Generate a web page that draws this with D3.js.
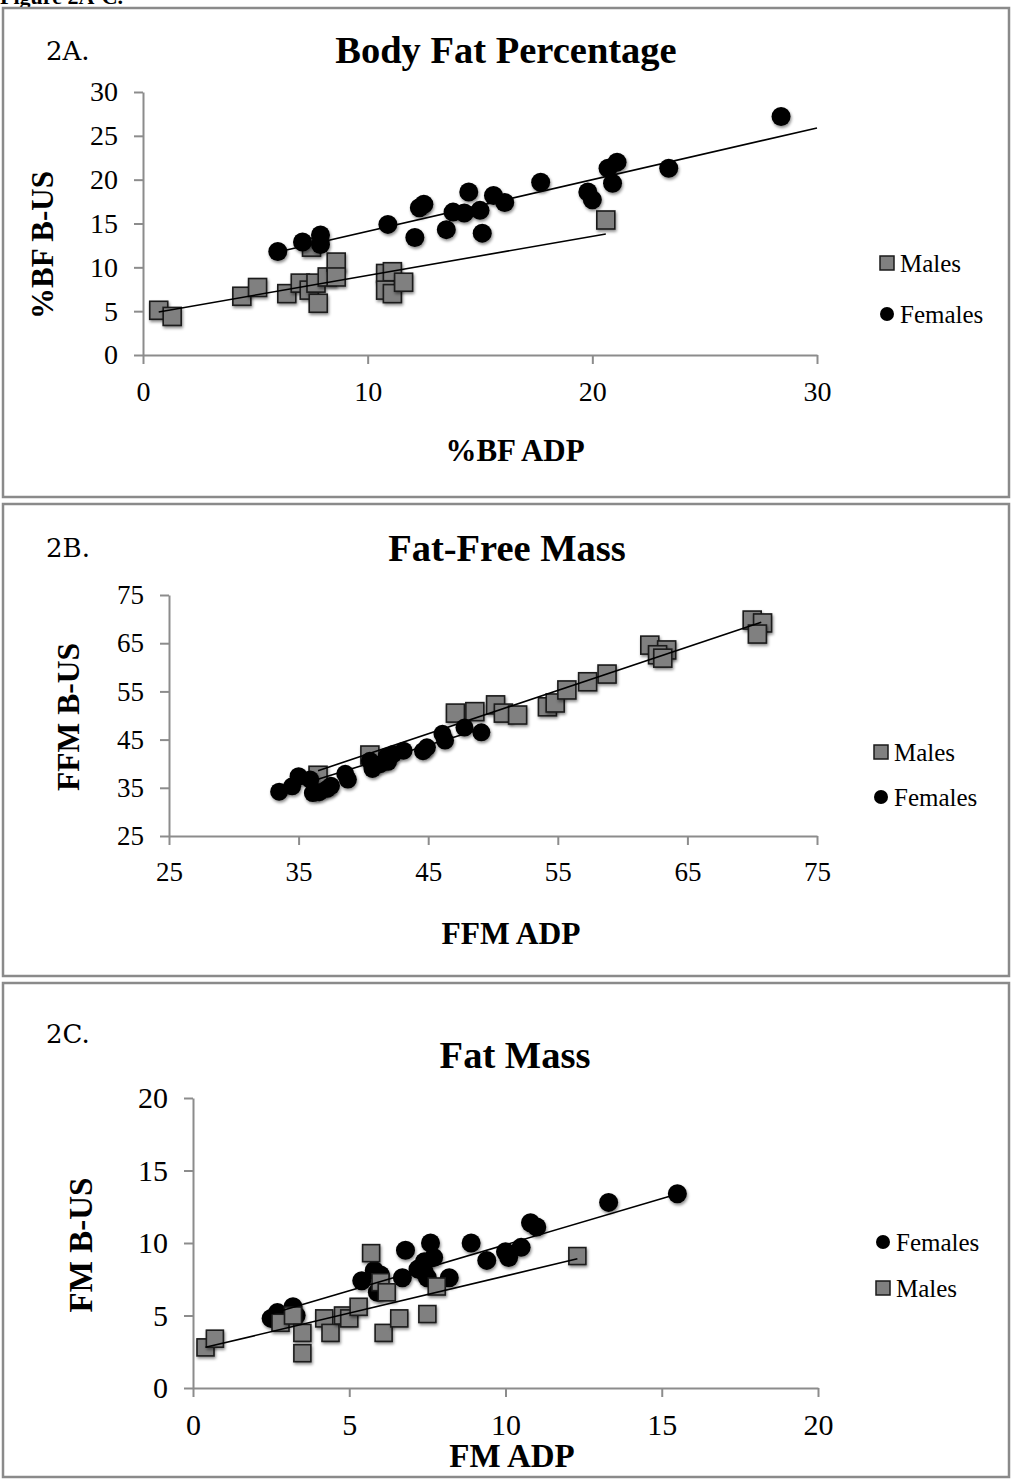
<!DOCTYPE html>
<html>
<head>
<meta charset="utf-8">
<script src="https://cdn.jsdelivr.net/npm/d3@7"></script>
<style>
  body { margin: 0; background: #fff; }
  svg text { font-family: "Liberation Serif", "Times New Roman", serif; fill: #000; }
  .axis path, .axis line { stroke: #8c8c8c; stroke-width: 2; }
</style>
</head>
<body>
<svg id="chart" width="1013" height="1479"></svg>
<script>
// panel A - body fat percentage (%BF ADP vs %BF B-US)
var malesA = [[0.7,5.1],[1.3,4.4],[4.4,6.7],[5.1,7.7],[6.4,7.0],[7.0,8.2],[7.4,7.4],[7.5,12.3],[7.7,8.2],[7.8,5.9],
  [8.2,8.9],[8.6,10.6],[8.6,8.9],[10.8,9.3],[11.1,9.5],[10.8,7.4],[11.1,7.0],[11.6,8.3],[20.6,15.4]];
var femalesA = [[6.0,11.8],[7.1,12.9],[7.9,13.7],[7.9,12.6],[10.9,14.9],[12.1,13.4],[12.3,16.8],[12.5,17.2],[13.5,14.3],
  [13.8,16.3],[14.3,16.2],[14.5,18.6],[15.0,16.5],[15.1,13.9],[15.6,18.2],[16.1,17.4],[17.7,19.7],[19.8,18.6],
  [20.0,17.7],[20.7,21.3],[21.1,22.0],[20.9,19.6],[23.4,21.3],[28.4,27.2]];
// trend lines: [xStart, xEnd, slope, intercept]
var trendMalesA = [0.7, 20.6, 0.447, 4.6];
var trendFemalesA = [6.0, 30, 0.59, 8.2];
var xTicksA = [0, 10, 20, 30];
var yTicksA = [0, 5, 10, 15, 20, 25, 30];

// panel B - fat-free mass
var malesB = [[36.5,37.6],[40.5,41.8],[47.1,50.5],[48.6,50.8],[50.2,52.2],[50.8,50.5],[51.9,50.1],[54.2,51.8],
  [54.8,52.6],[55.7,55.3],[57.3,57.0],[58.8,58.6],[62.1,64.6],[63.4,63.6],[62.7,62.6],[63.1,61.9],[70.0,69.8],
  [70.8,69.2],[70.4,66.9]];
var femalesB = [[33.5,34.2],[34.5,35.3],[35.0,37.4],[35.9,36.7],[36.1,33.9],[36.6,34.1],[37.2,34.8],[37.5,35.4],
  [38.6,37.9],[38.8,36.7],[40.5,40.6],[40.7,38.9],[41.3,39.9],[41.8,41.5],[41.9,40.4],[42.3,42.0],[43.1,42.7],
  [44.6,42.6],[44.9,43.4],[46.1,46.2],[46.3,44.8],[47.8,47.5],[49.1,46.5]];
var trendMalesB = [36.5, 70.7, 0.9, 5.7];
var trendFemalesB = [33.5, 49.1, 0.83, 6.5];
var ticksB = [25, 35, 45, 55, 65, 75];

// panel C - fat mass
var femalesC = [[2.5,4.8],[2.7,5.2],[3.2,5.6],[3.3,5.0],[5.4,7.4],[5.8,8.1],[5.9,6.6],[6.0,7.8],[6.8,9.5],[6.7,7.6],
  [7.2,8.2],[7.4,8.7],[7.6,10.0],[7.7,9.0],[7.4,8.0],[7.5,7.6],[8.2,7.6],[8.9,10.0],[9.4,8.8],[10.0,9.4],
  [10.1,9.0],[10.5,9.7],[10.8,11.4],[11.0,11.1],[13.3,12.8],[15.5,13.4]];
var malesC = [[0.4,2.8],[0.7,3.4],[2.8,4.5],[3.2,5.0],[3.5,3.8],[3.5,2.4],[4.2,4.8],[4.4,3.8],[4.8,5.0],[5.0,4.8],
  [5.3,5.6],[5.7,9.3],[6.0,7.3],[6.2,6.6],[6.1,3.8],[6.6,4.8],[7.5,5.1],[7.8,7.0],[12.3,9.1]];
var trendFemalesC = [2.5, 15.5, 0.635, 3.53];
var trendMalesC = [0.4, 12.3, 0.513, 2.6];
var ticksC = [0, 5, 10, 15, 20];

var svg = d3.select("#chart");

// soft shadow under the markers
var defs = svg.append("defs");
defs.append("filter").attr("id", "shadow").attr("x", "-50%").attr("y", "-50%").attr("width", "200%").attr("height", "200%")
  .append("feDropShadow").attr("dx", 1).attr("dy", 2).attr("stdDeviation", 1.5).attr("flood-opacity", 0.45);

// figure caption, cut off at the top just like the source
svg.append("text").attr("x", 0).attr("y", 4).attr("font-size", 22).attr("font-weight", "bold").text("Figure 2A-C.");

function drawSquares(g, data, x, y, size){
  g.selectAll(null).data(data).enter().append("rect")
    .attr("x", function(d){ return x(d[0]) - size/2; })
    .attr("y", function(d){ return y(d[1]) - size/2; })
    .attr("width", size).attr("height", size)
    .attr("fill", "#808080").attr("stroke", "#1a1a1a").attr("stroke-width", 1.6)
    .attr("filter", "url(#shadow)");
}
function drawCircles(g, data, x, y, r){
  g.selectAll(null).data(data).enter().append("circle")
    .attr("cx", function(d){ return x(d[0]); })
    .attr("cy", function(d){ return y(d[1]); })
    .attr("r", r).attr("fill", "#000")
    .attr("filter", "url(#shadow)");
}
function drawTrend(g, t, x, y){
  var pts = [[t[0], t[2]*t[0] + t[3]], [t[1], t[2]*t[1] + t[3]]];
  g.append("path").attr("d", d3.line().x(function(d){ return x(d[0]); }).y(function(d){ return y(d[1]); })(pts))
    .attr("stroke", "#000").attr("stroke-width", 1.6).attr("fill", "none");
}

function panel(p){
  // frame
  svg.append("rect").attr("x", 3).attr("y", p.box[0]).attr("width", 1006).attr("height", p.box[1] - p.box[0])
    .attr("fill", "none").attr("stroke", "#8a8a8a").attr("stroke-width", 2.5);
  svg.append("text").attr("x", 46).attr("y", p.labelY).attr("font-size", 26)
    .style("font-family", "'DejaVu Serif', serif").text(p.label);
  svg.append("text").attr("x", p.titleX).attr("y", p.titleY).attr("text-anchor", "middle")
    .attr("font-size", 38.5).attr("font-weight", "bold").text(p.title);

  var x = d3.scaleLinear().domain(p.xDomain).range(p.xRange);
  var y = d3.scaleLinear().domain(p.yDomain).range(p.yRange);

  var gx = svg.append("g").attr("class", "axis").attr("transform", "translate(0," + p.yRange[0] + ")")
    .call(d3.axisBottom(x).tickValues(p.xTicks).tickSize(9).tickSizeOuter(0).tickPadding(p.xPad));
  var gy = svg.append("g").attr("class", "axis").attr("transform", "translate(" + p.xRange[0] + ",0)")
    .call(d3.axisLeft(y).tickValues(p.yTicks).tickSize(9).tickSizeOuter(0).tickPadding(16));
  gx.attr("font-family", null);
  gy.attr("font-family", null);
  gx.selectAll("text").attr("font-size", p.tickFont);
  gy.selectAll("text").attr("font-size", p.tickFont);

  svg.append("text").attr("x", p.xLabelPos[0]).attr("y", p.xLabelPos[1]).attr("text-anchor", "middle")
    .attr("font-size", p.titleFont).attr("font-weight", "bold").text(p.xLabel);
  svg.append("text").attr("transform", "translate(" + p.yLabelPos[0] + "," + p.yLabelPos[1] + ") rotate(-90)")
    .attr("text-anchor", "middle").attr("dy", "0.35em")
    .attr("font-size", p.titleFont).attr("font-weight", "bold").text(p.yLabel);

  var g = svg.append("g");
  p.series.forEach(function(s){
    if (s.shape == "square") drawSquares(g, s.data, x, y, p.sq);
    else drawCircles(g, s.data, x, y, p.r);
  });
  p.series.forEach(function(s){ drawTrend(g, s.trend, x, y); });

  // legend
  p.series.forEach(function(s, i){
    var ly = p.legendY[i];
    if (s.shape == "square")
      svg.append("rect").attr("x", p.legendX - 7).attr("y", ly - 7).attr("width", 14).attr("height", 14)
        .attr("fill", "#808080").attr("stroke", "#1a1a1a").attr("stroke-width", 1.5);
    else
      svg.append("circle").attr("cx", p.legendX).attr("cy", ly).attr("r", 7).attr("fill", "#000");
    svg.append("text").attr("x", p.legendX + 13).attr("y", ly + 9).attr("font-size", 25).text(s.name);
  });
}

panel({
  box: [8, 497], label: "2A.", labelY: 60, title: "Body Fat Percentage", titleX: 506, titleY: 63,
  xDomain: [0, 30], yDomain: [0, 30], xRange: [143, 817], yRange: [355, 92],
  xTicks: xTicksA, yTicks: yTicksA, tickFont: 28, xPad: 17, titleFont: 31,
  xLabel: "%BF ADP", xLabelPos: [515, 461], yLabel: "%BF B-US", yLabelPos: [42, 245],
  sq: 18, r: 9.5, legendX: 887, legendY: [263, 314],
  series: [
    { name: "Males", shape: "square", data: malesA, trend: trendMalesA },
    { name: "Females", shape: "circle", data: femalesA, trend: trendFemalesA }
  ]
});

panel({
  box: [504, 976], label: "2B.", labelY: 557, title: "Fat-Free Mass", titleX: 507, titleY: 561,
  xDomain: [25, 75], yDomain: [25, 75], xRange: [169, 817], yRange: [836, 595],
  xTicks: ticksB, yTicks: ticksB, tickFont: 27, xPad: 17, titleFont: 31.5,
  xLabel: "FFM ADP", xLabelPos: [511, 944], yLabel: "FFM B-US", yLabelPos: [68, 717],
  sq: 18, r: 9, legendX: 881, legendY: [752, 797],
  series: [
    { name: "Males", shape: "square", data: malesB, trend: trendMalesB },
    { name: "Females", shape: "circle", data: femalesB, trend: trendFemalesB }
  ]
});

panel({
  box: [983, 1477], label: "2C.", labelY: 1043, title: "Fat Mass", titleX: 515, titleY: 1068,
  xDomain: [0, 20], yDomain: [0, 20], xRange: [193, 818], yRange: [1388, 1098],
  xTicks: ticksC, yTicks: ticksC, tickFont: 30, xPad: 17, titleFont: 33,
  xLabel: "FM ADP", xLabelPos: [512, 1467], yLabel: "FM B-US", yLabelPos: [80, 1245],
  sq: 17, r: 9.5, legendX: 883, legendY: [1242, 1288],
  series: [
    { name: "Females", shape: "circle", data: femalesC, trend: trendFemalesC },
    { name: "Males", shape: "square", data: malesC, trend: trendMalesC }
  ]
});
</script>
</body>
</html>
